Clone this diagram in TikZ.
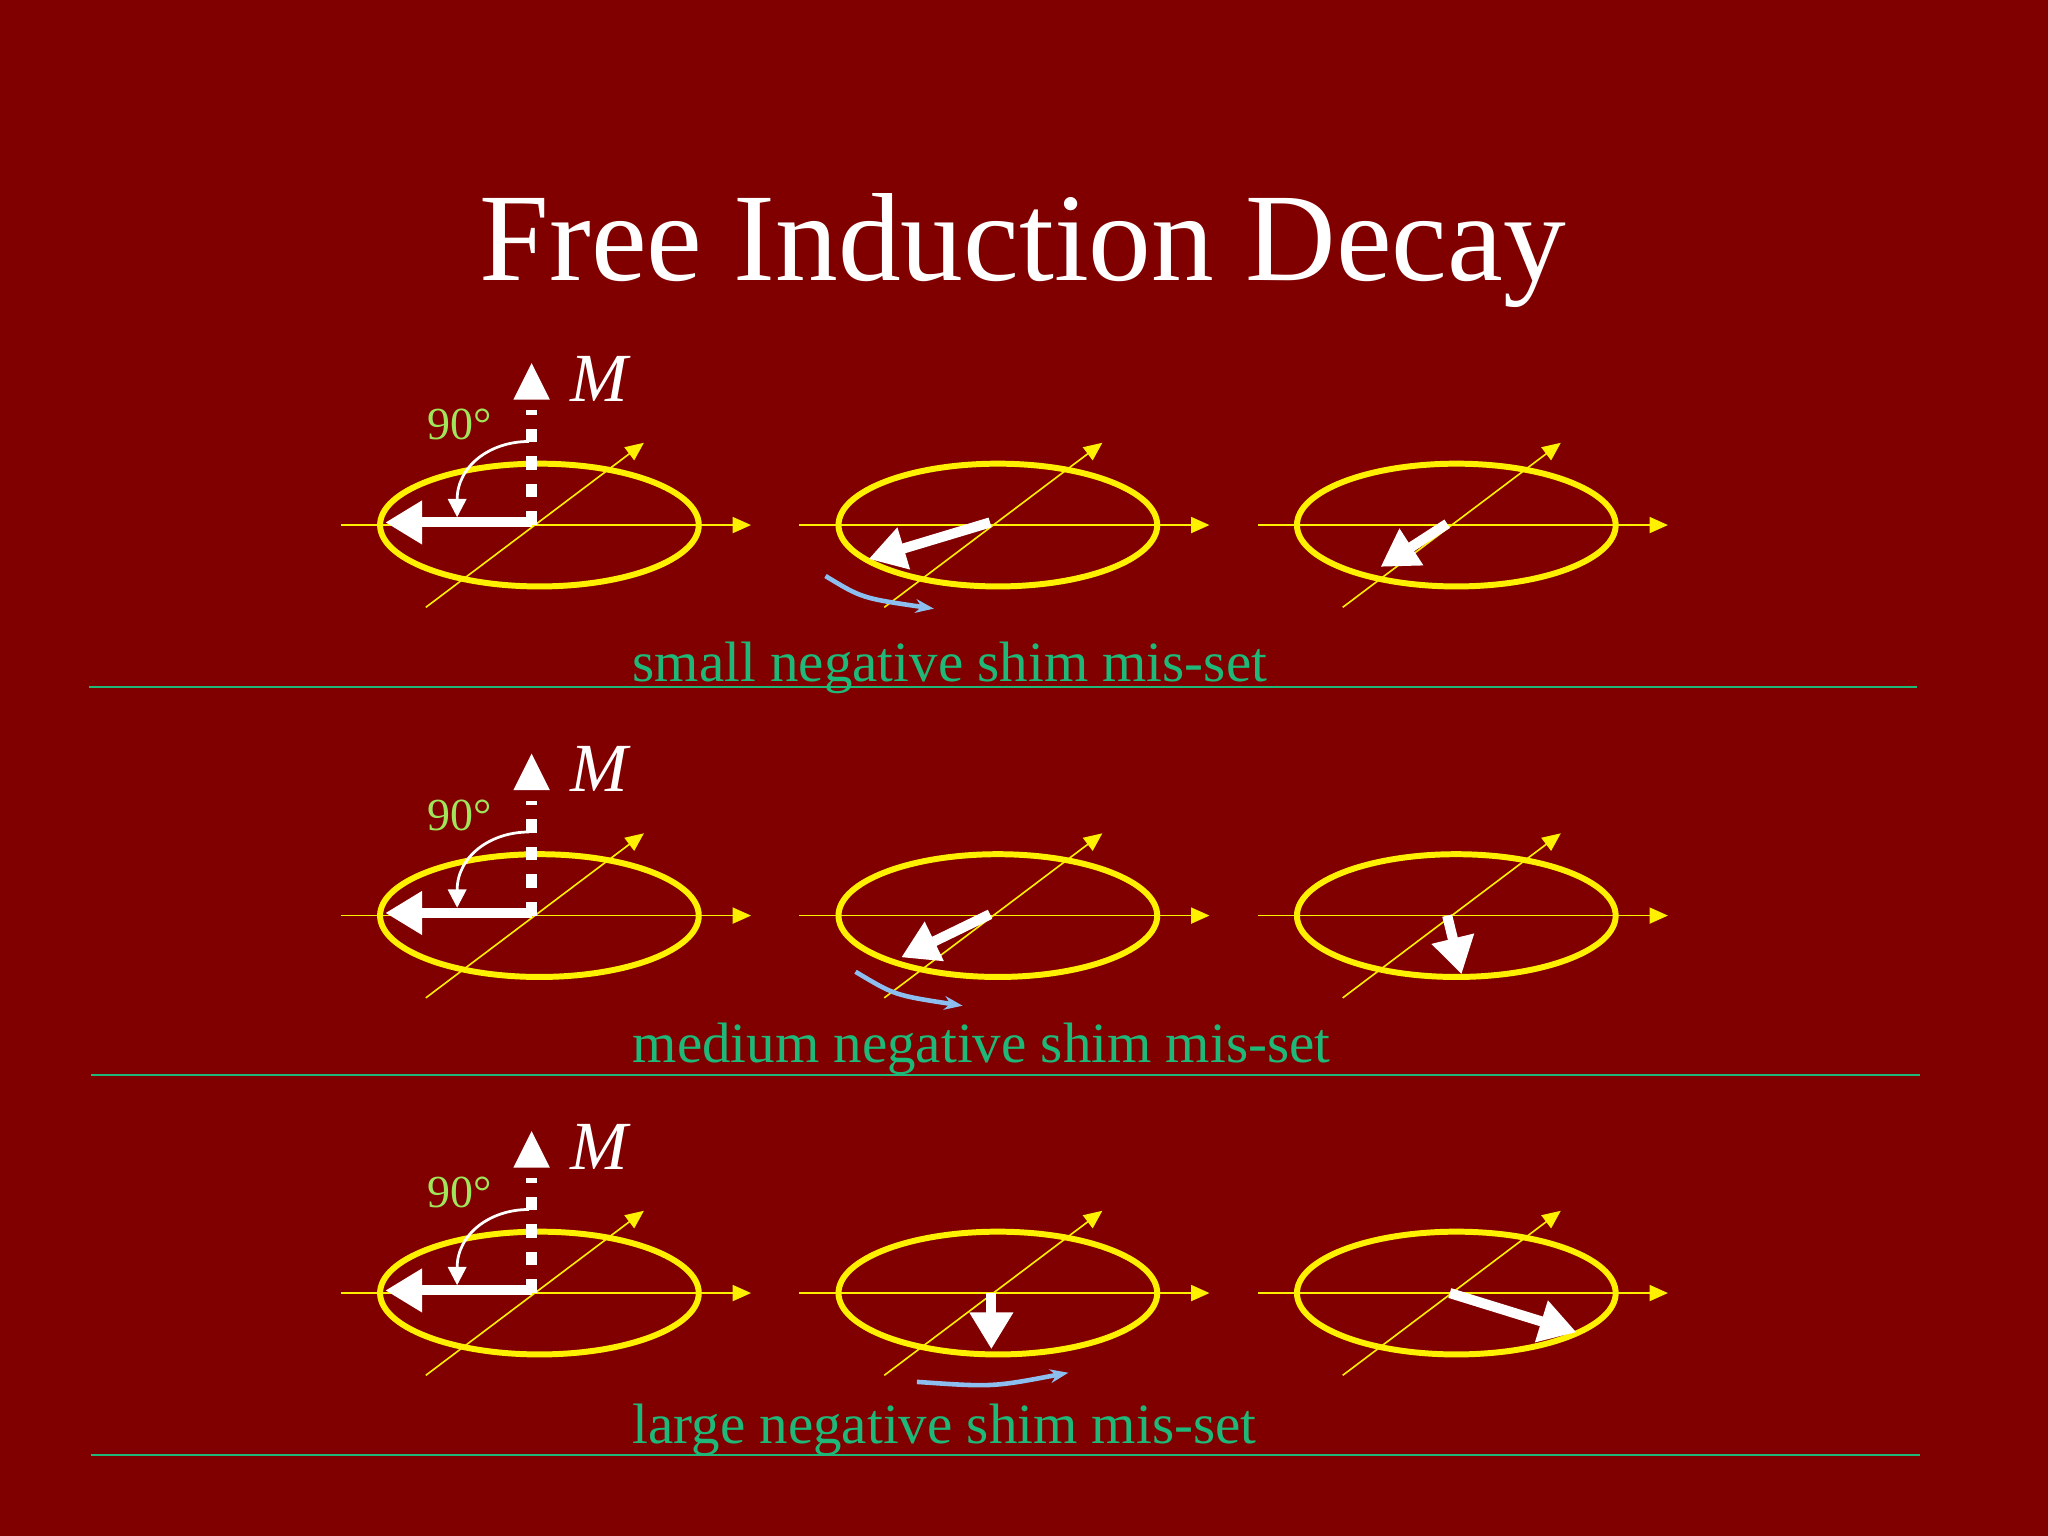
\documentclass[tikz,border=0pt]{standalone}
\usepackage{fontspec}
\setmainfont{Liberation Serif}
\usetikzlibrary{arrows.meta}
\definecolor{bg}{RGB}{128,0,0}
\definecolor{ell}{RGB}{255,240,0}
\definecolor{capgreen}{RGB}{30,185,120}
\definecolor{deg}{RGB}{160,230,90}
\definecolor{rot}{RGB}{140,190,240}
\tikzset{
  ax/.style={ell,line width=0.35pt,-{Triangle[length=4pt,width=3.5pt]}},
  ring/.style={ell,line width=1.3pt},
  mag/.style={white,line width=2.2pt,-{Triangle[length=8pt,width=9pt]}},
  rotarr/.style={rot,line width=1pt,-{Stealth[length=4pt]}},
  sep/.style={capgreen,line width=0.4pt},
  captxt/.style={text=capgreen,font=\fontsize{12.4pt}{14pt}\selectfont,anchor=west}
}
\newcommand{\axframe}[3]{% center x, y, name
  \coordinate (#3c) at (#1,#2);
  \coordinate (#3l) at (#1-152,#2); \coordinate (#3r) at (#1+162,#2);
  \coordinate (#3a) at (#1-87,#2+63); \coordinate (#3b) at (#1+80,#2-63);
  \draw[ax] (#3l) -- (#3r);
  \draw[ax] (#3a) -- (#3b);
  \draw[ring] (#3c) ellipse (122 and 47);
}
\newcommand{\firstpanel}[2]{% y, name
  \axframe{413}{#1}{#2}
  \coordinate (#2o) at (407,#1);
  \coordinate (#2t) at (407,#1-124);
  \coordinate (#2h) at (295,#1-2);
  \draw[white,line width=2.4pt,dash pattern=on 3pt off 3pt] (#2o) -- (407,#1-88);
  \fill[white] (#2t) -- (393,#1-96) -- (421,#1-96) -- cycle;
  \node[white,font=\fontsize{15pt}{17pt}\selectfont\itshape,anchor=west] (#2M) at (424,#1-112) {M};
  \node[text=deg,font=\fontsize{10pt}{12pt}\selectfont] (#2d) at (352,#1-77) {90°};
  \draw[mag] (407,#1-2) -- (#2h);
  \draw[white,line width=0.6pt,-{Triangle[length=4pt,width=4pt]}] (405,#1-64) .. controls (375,#1-64) and (350,#1-45) .. (350,#1-6);
}
\begin{document}
\begin{tikzpicture}[x=0.01cm,y=-0.01cm]
\fill[bg] (0,0) rectangle (1568,1176);
\useasboundingbox (0,0) rectangle (1568,1176);
\node[white,font=\fontsize{27.3pt}{32pt}\selectfont] (title) at (783,192) {Free Induction Decay};
% row 1
\firstpanel{402}{pa}
\axframe{764}{402}{pb}\axframe{1115}{402}{pc}
\coordinate (b1s) at (758,400); \coordinate (b1e) at (665,428);
\draw[mag] (b1s) -- (b1e);
\coordinate (c1s) at (1108,401); \coordinate (c1e) at (1057,434);
\draw[mag] (c1s) -- (c1e);
\coordinate (r1s) at (632,441); \coordinate (r1e) at (715,466);
\draw[rotarr] (r1s) .. controls (660,458) .. (r1e);
\node[captxt] (cap1) at (472,511) {small negative shim mis-set};
\coordinate (s1a) at (68,526); \coordinate (s1b) at (1468,526);
\draw[sep] (s1a) -- (s1b);
% row 2
\firstpanel{701}{qa}
\axframe{764}{701}{qb}\axframe{1115}{701}{qc}
\coordinate (b2s) at (758,700); \coordinate (b2e) at (690,733);
\draw[mag] (b2s) -- (b2e);
\coordinate (c2s) at (1108,701); \coordinate (c2e) at (1119,746);
\draw[mag] (c2s) -- (c2e);
\coordinate (r2s) at (655,744); \coordinate (r2e) at (737,770);
\draw[rotarr] (r2s) .. controls (685,762) .. (r2e);
\node[captxt] (cap2) at (472,803) {medium negative shim mis-set};
\coordinate (s2a) at (70,823); \coordinate (s2b) at (1470,823);
\draw[sep] (s2a) -- (s2b);
% row 3
\firstpanel{990}{ta}
\axframe{764}{990}{tb}\axframe{1115}{990}{tc}
\coordinate (b3s) at (759,990); \coordinate (b3e) at (759,1033);
\draw[mag] (b3s) -- (b3e);
\coordinate (c3s) at (1110,990); \coordinate (c3e) at (1207,1020);
\draw[mag] (c3s) -- (c3e);
\coordinate (r3s) at (702,1058); \coordinate (r3e) at (818,1051);
\draw[rotarr] (r3s) .. controls (760,1062) .. (r3e);
\node[captxt] (cap3) at (472,1095) {large negative shim mis-set};
\coordinate (s3a) at (70,1114); \coordinate (s3b) at (1470,1114);
\draw[sep] (s3a) -- (s3b);
\end{tikzpicture}
\end{document}
